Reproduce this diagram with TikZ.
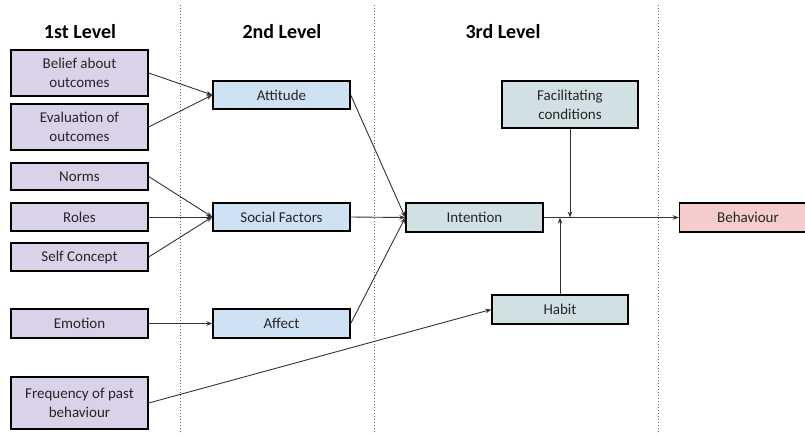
\documentclass[tikz,border=0pt]{standalone}
\usepackage{fontspec}
\setmainfont{Carlito}
\usetikzlibrary{positioning}
\usetikzlibrary{arrows.meta}
\definecolor{lavender}{HTML}{D9D2E9}
\definecolor{paleblue}{HTML}{CFE2F3}
\definecolor{palecyan}{HTML}{D0E0E3}
\definecolor{palered}{HTML}{F4CCCC}
\tikzset{
    mybox/.style = {rectangle, line width=1.4pt, draw=black, align=center, inner sep=2pt,
        minimum width=137pt, minimum height=28pt, font=\fontsize{15}{19}\selectfont, text=black!85},
    myboxp/.style = {mybox, fill=lavender},
    myboxb/.style = {mybox, fill=paleblue},
    myboxc/.style = {mybox, fill=palecyan},
    myboxr/.style = {mybox, fill=palered},
    header/.style = {font=\fontsize{20}{22}\selectfont\bfseries},
    edgen/.style = {-{Stealth[length=6pt,width=4.5pt]}, line width=0.9pt, black!80},
    sep/.style = {dotted, line width=1pt, black!60}
}
\begin{document}
\begin{tikzpicture}[x=1pt, y=-1pt]
  \useasboundingbox (0,0) rectangle (805,434);

  % level separators
  \foreach \sx in {180,374,658}
    \draw[sep] (\sx,5) -- (\sx,434);

  % headers
  \node[header] (h1) at (80,32) {1st Level};
  \node[header] (h2) at (282,32) {2nd Level};
  \node[header] (h3) at (503,32) {3rd Level};

  % 1st level
  \node[myboxp, minimum height=46pt] (belief) at (79.5,73) {Belief about\\outcomes};
  \node[myboxp, minimum height=46pt] (evalu) at (79.5,127) {Evaluation of\\outcomes};
  \node[myboxp, minimum height=27pt] (norms) at (79.5,176.5) {Norms};
  \node[myboxp] (roles) at (79.5,217) {Roles};
  \node[myboxp] (selfc) at (79.5,257) {Self Concept};
  \node[myboxp, minimum height=29pt] (emotion) at (79.5,323.5) {Emotion};
  \node[myboxp, minimum height=52pt] (freq) at (79.5,403) {Frequency of past\\behaviour};

  % 2nd level
  \node[myboxb] (attitude) at (281.5,95) {Attitude};
  \node[myboxb] (social) at (281.5,217) {Social Factors};
  \node[myboxb, minimum height=29pt] (affect) at (281.5,323.5) {Affect};

  % 3rd level
  \node[myboxc, minimum height=29pt] (intention) at (474.5,217.5) {Intention};
  \node[myboxc, minimum width=136pt, minimum height=47pt] (facil) at (570,104.5) {Facilitating\\conditions};
  \node[myboxc, minimum width=136pt, minimum height=29pt] (habit) at (560,309.5) {Habit};
  \node[myboxr, minimum height=29pt] (behav) at (748,217.5) {Behaviour};

  % edges
  \draw[edgen] (belief.east) -- (attitude.west);
  \draw[edgen] (evalu.east) -- (attitude.west);
  \draw[edgen] (norms.east) -- (social.west);
  \draw[edgen] (roles.east) -- (social.west);
  \draw[edgen] (selfc.east) -- (social.west);
  \draw[edgen] (emotion.east) -- (affect.west);
  \draw[edgen] (freq.east) -- (habit.west);
  \draw[edgen] (attitude.east) -- (intention.west);
  \draw[edgen] (social.east) -- (intention.west);
  \draw[edgen] (affect.east) -- (intention.west);
  \draw[edgen] (intention.east) -- (behav.west);
  \draw[edgen] (facil.south) -- (facil.south |- intention.east);
  \draw[edgen] (habit.north) -- (habit.north |- intention.east);

\end{tikzpicture}
\end{document}
